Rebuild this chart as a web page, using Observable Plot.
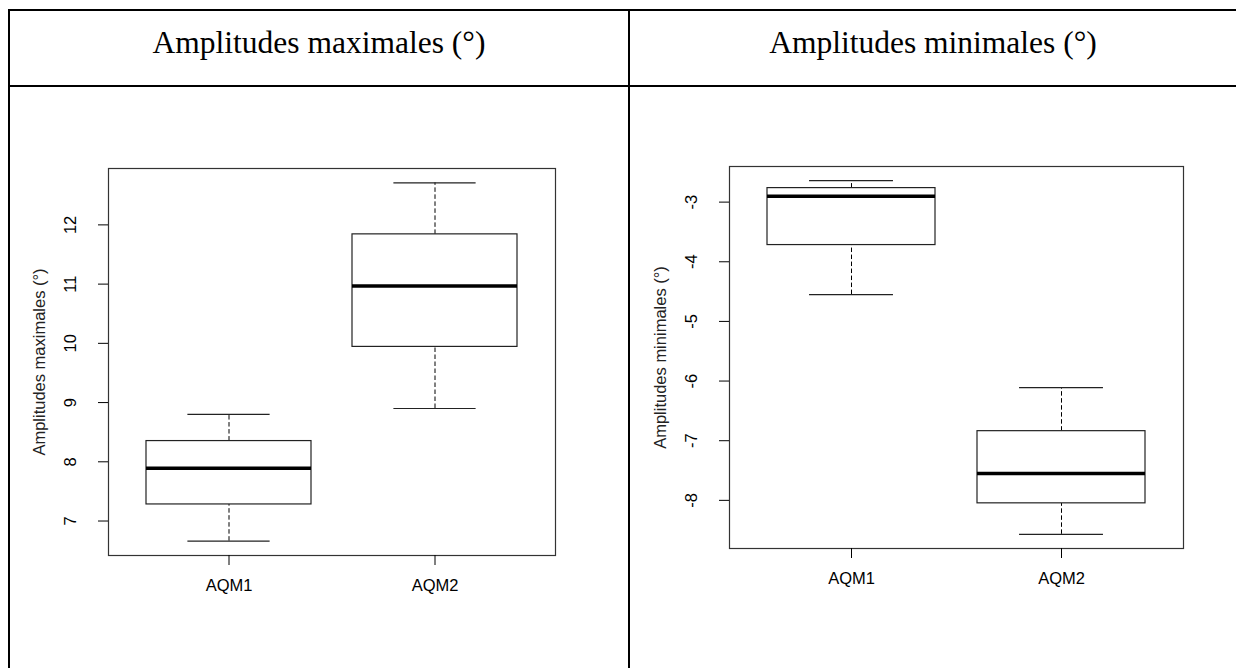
<!DOCTYPE html>
<html>
<head>
<meta charset="utf-8">
<script src="https://cdn.jsdelivr.net/npm/d3@7"></script>
<script src="https://cdn.jsdelivr.net/npm/@observablehq/plot@0.6"></script>
<style>
html, body { margin: 0; padding: 0; background: #fff; }
#page { position: relative; width: 1236px; height: 668px; overflow: hidden; background: #fff; }
.line { position: absolute; background: #000; }
.head { position: absolute; top: 27px; width: 620px; text-align: center; line-height: 1; white-space: nowrap;
  font-family: "Liberation Serif", "Times New Roman", serif; font-size: 31.5px; color: #000; }
.chart { position: absolute; }
</style>
</head>
<body>
<div id="page">
  <div class="line" style="left:8px; top:9px; width:1228px; height:2px;"></div>
  <div class="line" style="left:8px; top:85px; width:1228px; height:2px;"></div>
  <div class="line" style="left:8px; top:9px; width:2px; height:659px;"></div>
  <div class="line" style="left:628px; top:9px; width:2px; height:659px;"></div>
  <div class="head" id="h1" style="left:9px;"></div>
  <div class="head" id="h2" style="left:623px;"></div>
  <div class="chart" id="c1" style="left:10px; top:90px;"></div>
  <div class="chart" id="c2" style="left:632px; top:90px;"></div>
</div>
<script>
// Column headers / axis titles
const headers = ["Amplitudes maximales (°)", "Amplitudes minimales (°)"];
const categories = ["AQM1", "AQM2"];

// Left chart: Amplitudes maximales — boxplot statistics per category
const maxLow  = [6.66, 8.90];
const maxQ1   = [7.28, 9.94];
const maxMed  = [7.89, 10.97];
const maxQ3   = [8.35, 11.84];
const maxHigh = [8.80, 12.71];
const maxTicks = [7, 8, 9, 10, 11, 12];

// Right chart: Amplitudes minimales — boxplot statistics per category
const minLow  = [-4.55, -8.57];
const minQ1   = [-3.72, -8.05];
const minMed  = [-2.90, -7.55];
const minQ3   = [-2.765, -6.84];
const minHigh = [-2.64, -6.11];
const minTicks = [-8, -7, -6, -5, -4, -3];

document.getElementById("h1").textContent = headers[0];
document.getElementById("h2").textContent = headers[1];

const FONT = "'Liberation Sans', Arial, Helvetica, sans-serif";
const FS = 16.5;

function boxChart({low, q1, med, q3, high, ticks, ylabel, width, height, ml, mr, mt, mb}) {
  const rows = categories.map((c, i) => ({cat: c, low: low[i], q1: q1[i], med: med[i], q3: q3[i], high: high[i]}));
  const lo = d3.min(low), hi = d3.max(high), pad = (hi - lo) * 0.04;
  const plotW = width - ml - mr;
  const capInset = plotW / 2.16 * 0.2;
  return Plot.plot({
    width, height,
    marginLeft: ml, marginRight: mr, marginTop: mt, marginBottom: mb,
    style: {fontFamily: FONT, fontSize: FS + "px", background: "transparent", color: "#000", overflow: "visible"},
    x: {type: "band", domain: categories, paddingInner: 0.2, paddingOuter: 0.18},
    y: {domain: [lo - pad, hi + pad]},
    marks: [
      Plot.ruleX(rows, {x: "cat", y1: "q3", y2: "high", stroke: "#000", strokeWidth: 1, strokeDasharray: "4.5,2.5"}),
      Plot.ruleX(rows, {x: "cat", y1: "low", y2: "q1", stroke: "#000", strokeWidth: 1, strokeDasharray: "4.5,2.5"}),
      Plot.tickY(rows, {x: "cat", y: "high", stroke: "#222", strokeWidth: 1.2, insetLeft: capInset, insetRight: capInset}),
      Plot.tickY(rows, {x: "cat", y: "low", stroke: "#222", strokeWidth: 1.2, insetLeft: capInset, insetRight: capInset}),
      Plot.barY(rows, {x: "cat", y1: "q1", y2: "q3", fill: "#fff", stroke: "#222", strokeWidth: 1.2}),
      Plot.tickY(rows, {x: "cat", y: "med", stroke: "#000", strokeWidth: 3.5}),
      Plot.frame({stroke: "#333", strokeWidth: 1.2}),
      Plot.axisY({ticks, tickFormat: d => String(d), tickSize: 10, tickPadding: 23, tickRotate: -90, label: null, fontSize: FS, stroke: "#000"}),
      Plot.axisX({tickSize: 10, tickPadding: 14, label: null, fontSize: FS, stroke: "#000"}),
      Plot.text([ylabel], {frameAnchor: "left", dx: -64, rotate: -90, textAnchor: "middle", lineAnchor: "bottom", fontSize: FS, fill: "#222"})
    ]
  });
}

document.getElementById("c1").append(boxChart({
  low: maxLow, q1: maxQ1, med: maxMed, q3: maxQ3, high: maxHigh, ticks: maxTicks, ylabel: headers[0],
  width: 610, height: 575, ml: 98, mr: 65, mt: 78, mb: 110
}));
document.getElementById("c2").append(boxChart({
  low: minLow, q1: minQ1, med: minMed, q3: minQ3, high: minHigh, ticks: minTicks, ylabel: headers[1],
  width: 600, height: 575, ml: 97, mr: 49, mt: 76, mb: 117
}));
</script>
</body>
</html>
